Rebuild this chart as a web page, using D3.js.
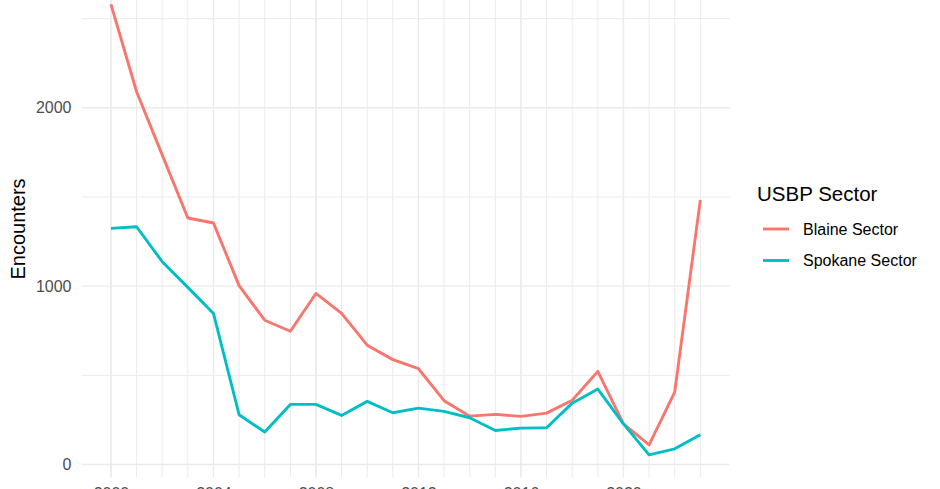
<!DOCTYPE html>
<html>
<head>
<meta charset="utf-8">
<script src="https://cdn.jsdelivr.net/npm/d3@7"></script>
<style>
  html, body { margin: 0; padding: 0; background: #fff; }
  svg { display: block; font-family: "Liberation Sans", Arial, sans-serif; }
</style>
</head>
<body>
<svg id="chart" width="940" height="489"></svg>
<script>
const years = d3.range(2000, 2024);
const blaine  = [2580, 2090, 1736, 1382, 1354, 1003, 809, 747, 959, 847, 669, 588, 537, 358, 271, 281, 270, 288, 360, 522, 228, 110, 406, 1483];
const spokane = [1324, 1333, 1137, 993, 847, 279, 182, 337, 337, 275, 354, 290, 316, 298, 262, 191, 204, 206, 344, 423, 228, 54, 88, 167];
const seriesNames = ["Blaine Sector", "Spokane Sector"];
const seriesColors = ["#F8766D", "#00BFC4"];
const xMajorTicks = [2000, 2004, 2008, 2012, 2016, 2020];
const yMajorTicks = [0, 1000, 2000];
const yMinorTicks = [500, 1500, 2500];
const legendTitle = "USBP Sector";
const yTitle = "Encounters";

const svg = d3.select("#chart");

// expanded domains (5% like ggplot)
const xMin = d3.min(years), xMax = d3.max(years);
const xPad = (xMax - xMin) * 0.05;
const allVals = blaine.concat(spokane);
const yMinV = d3.min(allVals), yMaxV = d3.max(allVals);
const yPad = (yMaxV - yMinV) * 0.05;

const x = d3.scaleLinear().domain([xMin - xPad, xMax + xPad]).range([81.5, 729.8]);
const yBase = d3.scaleLinear().domain([0, 2000]).range([464.5, 107.8]);
const y = yBase.copy().domain([yMinV - yPad, yMaxV + yPad])
  .range([yBase(yMinV - yPad), yBase(yMaxV + yPad)]);

const panelL = x.range()[0], panelR = x.range()[1];
const panelB = y.range()[0], panelT = y.range()[1];

const grid = svg.append("g");
// minor vertical (each year)
grid.selectAll(".vminor").data(years).join("line")
  .attr("x1", d => x(d)).attr("x2", d => x(d))
  .attr("y1", panelT).attr("y2", panelB)
  .attr("stroke", "#ebebeb").attr("stroke-width", 1.0);
grid.selectAll(".vmajor").data(xMajorTicks).join("line")
  .attr("x1", d => x(d)).attr("x2", d => x(d))
  .attr("y1", panelT).attr("y2", panelB)
  .attr("stroke", "#ebebeb").attr("stroke-width", 1.4);
grid.selectAll(".hminor").data(yMinorTicks).join("line")
  .attr("x1", panelL).attr("x2", panelR)
  .attr("y1", d => y(d)).attr("y2", d => y(d))
  .attr("stroke", "#ebebeb").attr("stroke-width", 1.0);
grid.selectAll(".hmajor").data(yMajorTicks).join("line")
  .attr("x1", panelL).attr("x2", panelR)
  .attr("y1", d => y(d)).attr("y2", d => y(d))
  .attr("stroke", "#ebebeb").attr("stroke-width", 1.4);

// axes via d3 axis, styled like ggplot minimal
const yAxis = svg.append("g").attr("transform", `translate(${panelL},0)`)
  .call(d3.axisLeft(y).tickValues(yMajorTicks).tickSize(0).tickPadding(10).tickFormat(d3.format("d")));
yAxis.select(".domain").remove();
yAxis.selectAll("text").attr("font-size", 16).attr("fill", "#4d4d4d")
  .attr("font-family", "Liberation Sans, Arial, sans-serif");

const xAxis = svg.append("g").attr("transform", `translate(0,${panelB})`)
  .call(d3.axisBottom(x).tickValues(xMajorTicks).tickSize(0).tickPadding(10).tickFormat(d3.format("d")));
xAxis.select(".domain").remove();
xAxis.selectAll("text").attr("font-size", 16).attr("fill", "#4d4d4d")
  .attr("font-family", "Liberation Sans, Arial, sans-serif");

// lines
const line = d3.line().x((d, i) => x(years[i])).y(d => y(d));
[blaine, spokane].forEach((vals, k) => {
  svg.append("path").datum(vals)
    .attr("d", line)
    .attr("fill", "none")
    .attr("stroke", seriesColors[k])
    .attr("stroke-width", 2.9)
    .attr("stroke-linejoin", "round")
    .attr("stroke-linecap", "butt");
});

// y title
svg.append("text")
  .attr("transform", `translate(25,229) rotate(-90)`)
  .attr("text-anchor", "middle")
  .attr("font-size", 20).attr("fill", "#000")
  .text(yTitle);

// legend
const lg = svg.append("g");
lg.append("text").attr("x", 757).attr("y", 201)
  .attr("font-size", 20.5).attr("fill", "#000").text(legendTitle);
seriesNames.forEach((name, k) => {
  const cy = 229 + k * 31.5;
  lg.append("line").attr("x1", 763).attr("x2", 789).attr("y1", cy).attr("y2", cy)
    .attr("stroke", seriesColors[k]).attr("stroke-width", 2.9);
  lg.append("text").attr("x", 803).attr("y", cy).attr("dy", "0.35em")
    .attr("font-size", 16).attr("fill", "#000").text(name);
});
</script>
</body>
</html>
